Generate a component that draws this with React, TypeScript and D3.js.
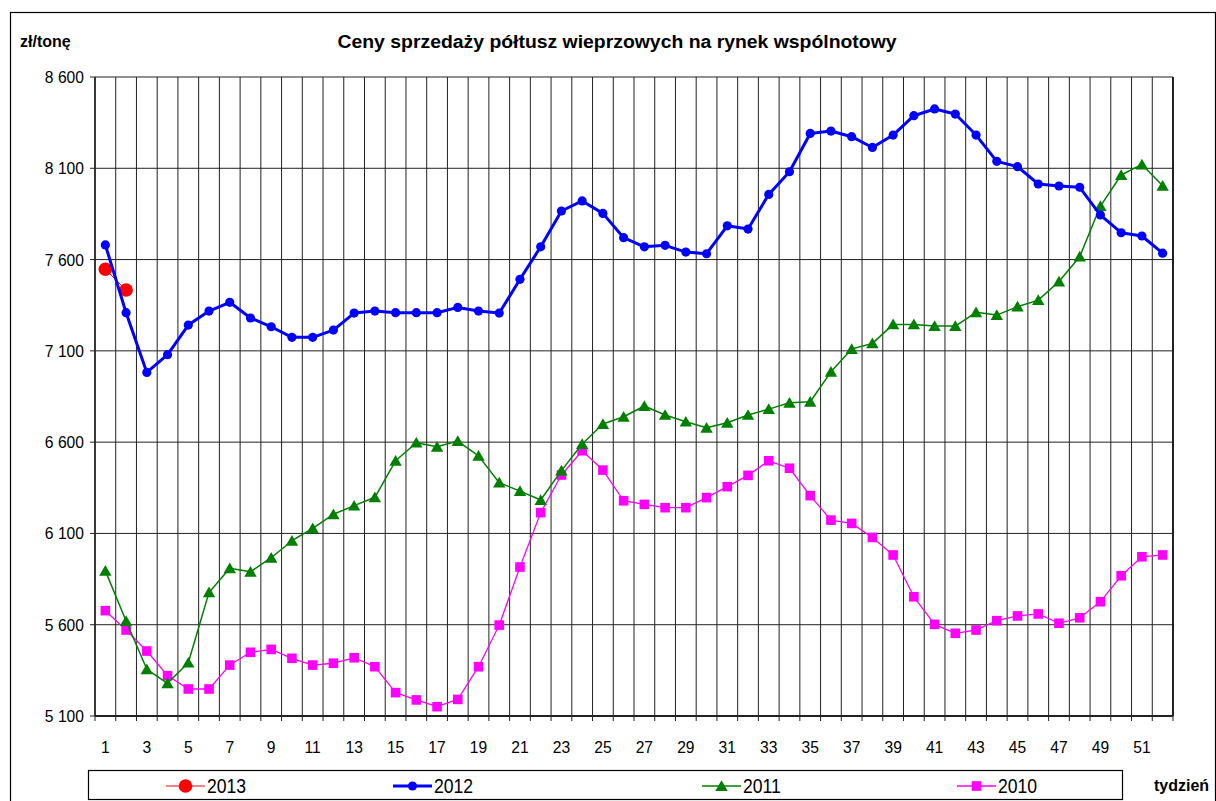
import React from "react";
import * as d3 from "d3";

const weeks: number[] = Array.from({ length: 52 }, (_, i) => i + 1);
const yTicks: number[] = [5100, 5600, 6100, 6600, 7100, 7600, 8100, 8600];
const seriesNames: string[] = ["2013", "2012", "2011", "2010"];

const v2013: number[] = [7547, 7433];
const v2012: number[] = [
  7680, 7309, 6982, 7079, 7241, 7318, 7366, 7280, 7232, 7174, 7174, 7214, 7307,
  7318, 7309, 7309, 7309, 7338, 7318, 7307, 7492, 7670, 7866, 7921, 7853, 7720,
  7670, 7678, 7641, 7632, 7785, 7767, 7957, 8081, 8291, 8304, 8273, 8214, 8282,
  8388, 8425, 8397, 8282, 8138, 8109, 8014, 8003, 7996, 7844, 7747, 7729, 7635,
];
const v2011: number[] = [
  5895, 5620, 5356, 5279, 5392, 5777, 5909, 5890, 5967, 6060, 6128, 6205, 6252,
  6298, 6498, 6597, 6575, 6606, 6525, 6378, 6332, 6283, 6444, 6590, 6699, 6739,
  6798, 6749, 6712, 6679, 6706, 6749, 6781, 6816, 6821, 6985, 7110, 7141, 7245,
  7245, 7236, 7236, 7311, 7296, 7342, 7378, 7480, 7616, 7893, 8063, 8121, 8004,
];
const v2010: number[] = [
  5677, 5571, 5456, 5321, 5248, 5248, 5379, 5449, 5465, 5416, 5379, 5389, 5419,
  5370, 5228, 5188, 5151, 5191, 5370, 5598, 5916, 6214, 6420, 6553, 6447, 6279,
  6259, 6241, 6241, 6296, 6356, 6418, 6498, 6457, 6307, 6173, 6155, 6078, 5982,
  5753, 5602, 5553, 5571, 5622, 5648, 5659, 5608, 5638, 5726, 5868, 5972, 5982,
];

const FONT = "'Liberation Sans', Arial, Helvetica, sans-serif";
const W = 1216;
const H = 801;
const L = 95, R = 1173, T = 77, B = 716;

const x = d3.scaleBand<number>().domain(weeks).range([L, R]).padding(0);
const bw = x.bandwidth();
const cx = (w: number) => (x(w) as number) + bw / 2;
const y = d3.scaleLinear().domain([5100, 8600]).range([B, T]);
const fmt = d3.formatLocale({ decimal: ",", thousands: " ", grouping: [3], currency: ["", " zł"] }).format(",d");

type Marker = "circle" | "bigcircle" | "tri" | "square";

function drawMarker(kind: Marker, px: number, py: number, color: string, key: string | number) {
  if (kind === "circle") return <circle key={key} cx={px} cy={py} r={4.6} fill={color} />;
  if (kind === "bigcircle") return <circle key={key} cx={px} cy={py} r={6.8} fill={color} />;
  if (kind === "tri") {
    const s = 5.8;
    return (
      <path key={key} d={`M${px},${py - s}L${px + s + 0.4},${py + s * 0.85}L${px - s - 0.4},${py + s * 0.85}Z`} fill={color} />
    );
  }
  return <rect key={key} x={px - 4.8} y={py - 4.8} width={9.6} height={9.6} fill={color} />;
}

const series = [
  { name: "2010", values: v2010, color: "#ff00ff", width: 1.3, marker: "square" as Marker },
  { name: "2011", values: v2011, color: "#008000", width: 1.5, marker: "tri" as Marker },
  { name: "2013", values: v2013, color: "#ff0000", width: 1, marker: "bigcircle" as Marker },
  { name: "2012", values: v2012, color: "#0000ff", width: 3, marker: "circle" as Marker },
];

const legendItems = [
  { name: seriesNames[0], color: "#ff0000", width: 1, marker: "bigcircle" as Marker, x0: 166 },
  { name: seriesNames[1], color: "#0000ff", width: 3, marker: "circle" as Marker, x0: 393 },
  { name: seriesNames[2], color: "#008000", width: 1.5, marker: "tri" as Marker, x0: 702 },
  { name: seriesNames[3], color: "#ff00ff", width: 1.3, marker: "square" as Marker, x0: 957 },
];

export default function App() {
  const line = d3
    .line<number>()
    .x((_, i) => cx(weeks[i]))
    .y((d) => y(d));

  const boundaries = d3.range(0, 53).map((i) => L + i * bw);

  return (
    <svg width={W} height={H} style={{ position: "absolute", left: 0, top: 0, background: "#fff" }} fontFamily={FONT}>
      <rect x={0} y={0} width={W} height={H} fill="#fff" />
      <rect x={10.5} y={12.5} width={1205} height={800} fill="none" stroke="#000" strokeWidth={1.2} />

      <text x={20} y={47} fontSize={16} fontWeight="bold" fill="#000">zł/tonę</text>
      <text x={617} y={48} fontSize={18} fontWeight="bold" textAnchor="middle" textLength={559} lengthAdjust="spacingAndGlyphs" fill="#000">
        Ceny sprzedaży półtusz wieprzowych na rynek wspólnotowy
      </text>

      {/* horizontal gridlines */}
      {yTicks.map((t) => (
        <line key={"h" + t} x1={L} x2={R} y1={y(t)} y2={y(t)} stroke="#222" strokeWidth={1} />
      ))}
      {/* vertical gridlines */}
      {boundaries.map((bx, i) => (
        <line key={"v" + i} x1={bx} x2={bx} y1={T} y2={B} stroke="#222" strokeWidth={1} />
      ))}
      {/* x ticks */}
      {boundaries.map((bx, i) => (
        <line key={"xt" + i} x1={bx} x2={bx} y1={B} y2={B + 5} stroke="#222" strokeWidth={1} />
      ))}
      {/* y ticks */}
      {yTicks.map((t) => (
        <line key={"yt" + t} x1={L - 5} x2={L} y1={y(t)} y2={y(t)} stroke="#222" strokeWidth={1} />
      ))}
      {/* axes */}
      <line x1={L} x2={L} y1={T} y2={B} stroke="#222" strokeWidth={1.6} />
      <line x1={L} x2={R} y1={B} y2={B} stroke="#222" strokeWidth={2} />
      <line x1={R} x2={R} y1={T} y2={B} stroke="#222" strokeWidth={2} />

      {yTicks.map((t) => (
        <text key={"yl" + t} transform={`translate(84,${y(t) + 6}) scale(0.92,1)`} fontSize={17} textAnchor="end" fill="#000">
          {fmt(t)}
        </text>
      ))}
      {weeks.filter((w) => w % 2 === 1).map((w) => (
        <text key={"xl" + w} transform={`translate(${cx(w)},${753}) scale(0.92,1)`} fontSize={17} textAnchor="middle" fill="#000">
          {w}
        </text>
      ))}

      {series.map((s) => (
        <g key={s.name}>
          <path d={line(s.values) || ""} fill="none" stroke={s.color} strokeWidth={s.width} strokeLinejoin="round" />
          {s.values.map((v, i) => drawMarker(s.marker, cx(weeks[i]), y(v), s.color, i))}
        </g>
      ))}

      {/* legend */}
      <rect x={88.5} y={770.5} width={1034} height={29} fill="#fff" stroke="#000" strokeWidth={1.2} />
      {legendItems.map((it) => (
        <g key={"lg" + it.name}>
          <line x1={it.x0} x2={it.x0 + 39} y1={786} y2={786} stroke={it.color} strokeWidth={it.width} />
          {drawMarker(it.marker, it.x0 + 19.5, 786, it.color, "m")}
          <text transform={`translate(${it.x0 + 41},${793}) scale(0.88,1)`} fontSize={20} fill="#000">
            {it.name}
          </text>
        </g>
      ))}
      <text x={1154} y={791} fontSize={16} fontWeight="bold" fill="#000">tydzień</text>
    </svg>
  );
}
